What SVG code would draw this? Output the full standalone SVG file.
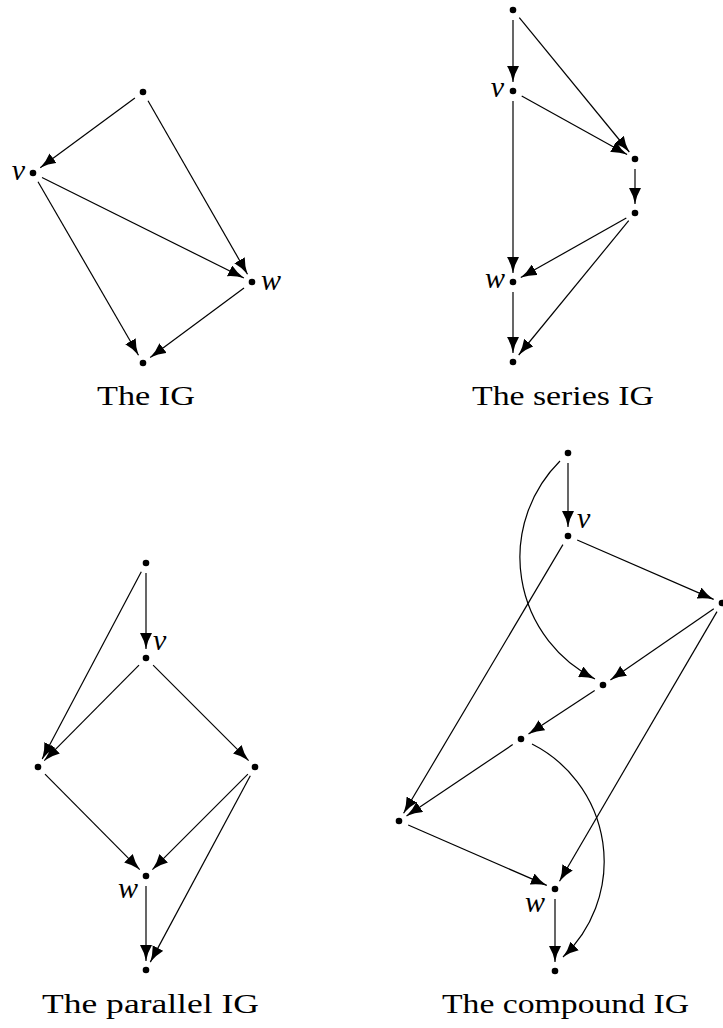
<svg xmlns="http://www.w3.org/2000/svg" width="723" height="1028" viewBox="0 0 723 1028">
<style>
.e{fill:none;stroke:#000;stroke-width:1.2;marker-end:url(#ah)}
.d{fill:#000}
.lb{font-family:"Liberation Serif","Times New Roman",serif;font-style:italic;font-size:30px;fill:#000}
.cap{font-family:"Liberation Serif","Times New Roman",serif;font-size:28px;fill:#000}
</style>
<defs>
<marker id="ah" markerUnits="userSpaceOnUse" viewBox="0 0 17 12" markerWidth="17" markerHeight="12" refX="16" refY="6" orient="auto">
<path d="M0,0 Q7,4.2 16,6 Q7,7.8 0,12 Z" fill="#000"/>
</marker>
</defs>
<rect width="723" height="1028" fill="#fff"/>
<g id="connectors">
<!-- panel 1 -->
<line class="e" x1="134.9" y1="97.9" x2="40.2" y2="167.7"/>
<line class="e" x1="148" y1="100.7" x2="247.5" y2="274.2"/>
<line class="e" x1="42" y1="177.5" x2="243.9" y2="278"/>
<line class="e" x1="38" y1="181.7" x2="138.5" y2="355.2"/>
<line class="e" x1="244" y1="288" x2="150.2" y2="357.6"/>
<!-- panel 2 -->
<line class="e" x1="513" y1="20" x2="513" y2="82"/>
<line class="e" x1="519.3" y1="17.7" x2="629.3" y2="152"/>
<line class="e" x1="521.7" y1="95.9" x2="627.1" y2="154.6"/>
<line class="e" x1="513" y1="101" x2="513" y2="273"/>
<line class="e" x1="635" y1="169" x2="635" y2="204"/>
<line class="e" x1="626.3" y1="217.9" x2="520.8" y2="277.6"/>
<line class="e" x1="628.7" y1="220.7" x2="518.7" y2="355"/>
<line class="e" x1="513" y1="292" x2="513" y2="353"/>
<!-- panel 3 -->
<line class="e" x1="146" y1="573" x2="146" y2="649"/>
<line class="e" x1="141.3" y1="571.8" x2="42.2" y2="759"/>
<line class="e" x1="139" y1="665.1" x2="44.3" y2="760.6"/>
<line class="e" x1="153.1" y1="665.1" x2="248.6" y2="760.6"/>
<line class="e" x1="45" y1="774.1" x2="139.7" y2="869.6"/>
<line class="e" x1="247.9" y1="774.1" x2="152.4" y2="869.6"/>
<line class="e" x1="250.3" y1="775.8" x2="150.3" y2="962.1"/>
<line class="e" x1="146" y1="886" x2="146" y2="961"/>
<!-- panel 4 -->
<line class="e" x1="568" y1="463" x2="568" y2="527"/>
<path class="e" d="M560,461 A136,136 0 0 0 595,679"/>
<line class="e" x1="577.2" y1="540" x2="713.7" y2="599.4"/>
<line class="e" x1="562.9" y1="544.6" x2="403.6" y2="813.3"/>
<line class="e" x1="713.8" y1="608.7" x2="610.4" y2="679.9"/>
<line class="e" x1="717" y1="611.6" x2="559.5" y2="881.2"/>
<line class="e" x1="594.7" y1="690.5" x2="528.5" y2="734.1"/>
<line class="e" x1="512.7" y1="744.6" x2="406.5" y2="816"/>
<path class="e" d="M532,744 A131.6,131.6 0 0 1 563,957"/>
<line class="e" x1="408.2" y1="825" x2="546.8" y2="885.4"/>
<line class="e" x1="555" y1="899" x2="555" y2="962"/>
</g>
<g id="ig">
<circle class="d" cx="143" cy="92" r="3.3"/>
<circle class="d" cx="33" cy="173" r="3.3"/>
<circle class="d" cx="252" cy="282" r="3.3"/>
<circle class="d" cx="143" cy="363" r="3.3"/>
<text class="lb" x="25" y="180" text-anchor="end">v</text>
<text class="lb" x="261" y="290">w</text>
<text class="cap" x="97" y="405" textLength="98" lengthAdjust="spacingAndGlyphs">The IG</text>
</g>
<g id="series-ig">
<circle class="d" cx="513" cy="10" r="3.3"/>
<circle class="d" cx="513" cy="91" r="3.3"/>
<circle class="d" cx="635" cy="159" r="3.3"/>
<circle class="d" cx="635" cy="213" r="3.3"/>
<circle class="d" cx="513" cy="282" r="3.3"/>
<circle class="d" cx="513" cy="362" r="3.3"/>
<text class="lb" x="504" y="97" text-anchor="end">v</text>
<text class="lb" x="505" y="288" text-anchor="end">w</text>
<text class="cap" x="472" y="405" textLength="182" lengthAdjust="spacingAndGlyphs">The series IG</text>
</g>
<g id="parallel-ig">
<circle class="d" cx="146" cy="563" r="3.3"/>
<circle class="d" cx="146" cy="658" r="3.3"/>
<circle class="d" cx="38" cy="767" r="3.3"/>
<circle class="d" cx="255" cy="767" r="3.3"/>
<circle class="d" cx="146" cy="876" r="3.3"/>
<circle class="d" cx="146" cy="970" r="3.3"/>
<text class="lb" x="153" y="650">v</text>
<text class="lb" x="138" y="898" text-anchor="end">w</text>
<text class="cap" x="42" y="1013" textLength="217" lengthAdjust="spacingAndGlyphs">The parallel IG</text>
</g>
<g id="compound-ig">
<circle class="d" cx="568" cy="453" r="3.3"/>
<circle class="d" cx="568" cy="536" r="3.3"/>
<circle class="d" cx="722" cy="603" r="3.3"/>
<circle class="d" cx="603" cy="685" r="3.3"/>
<circle class="d" cx="521" cy="739" r="3.3"/>
<circle class="d" cx="399" cy="821" r="3.3"/>
<circle class="d" cx="555" cy="889" r="3.3"/>
<circle class="d" cx="555" cy="971" r="3.3"/>
<text class="lb" x="577" y="528">v</text>
<text class="lb" x="545" y="912" text-anchor="end">w</text>
<text class="cap" x="442" y="1013" textLength="247" lengthAdjust="spacingAndGlyphs">The compound IG</text>
</g>
</svg>
